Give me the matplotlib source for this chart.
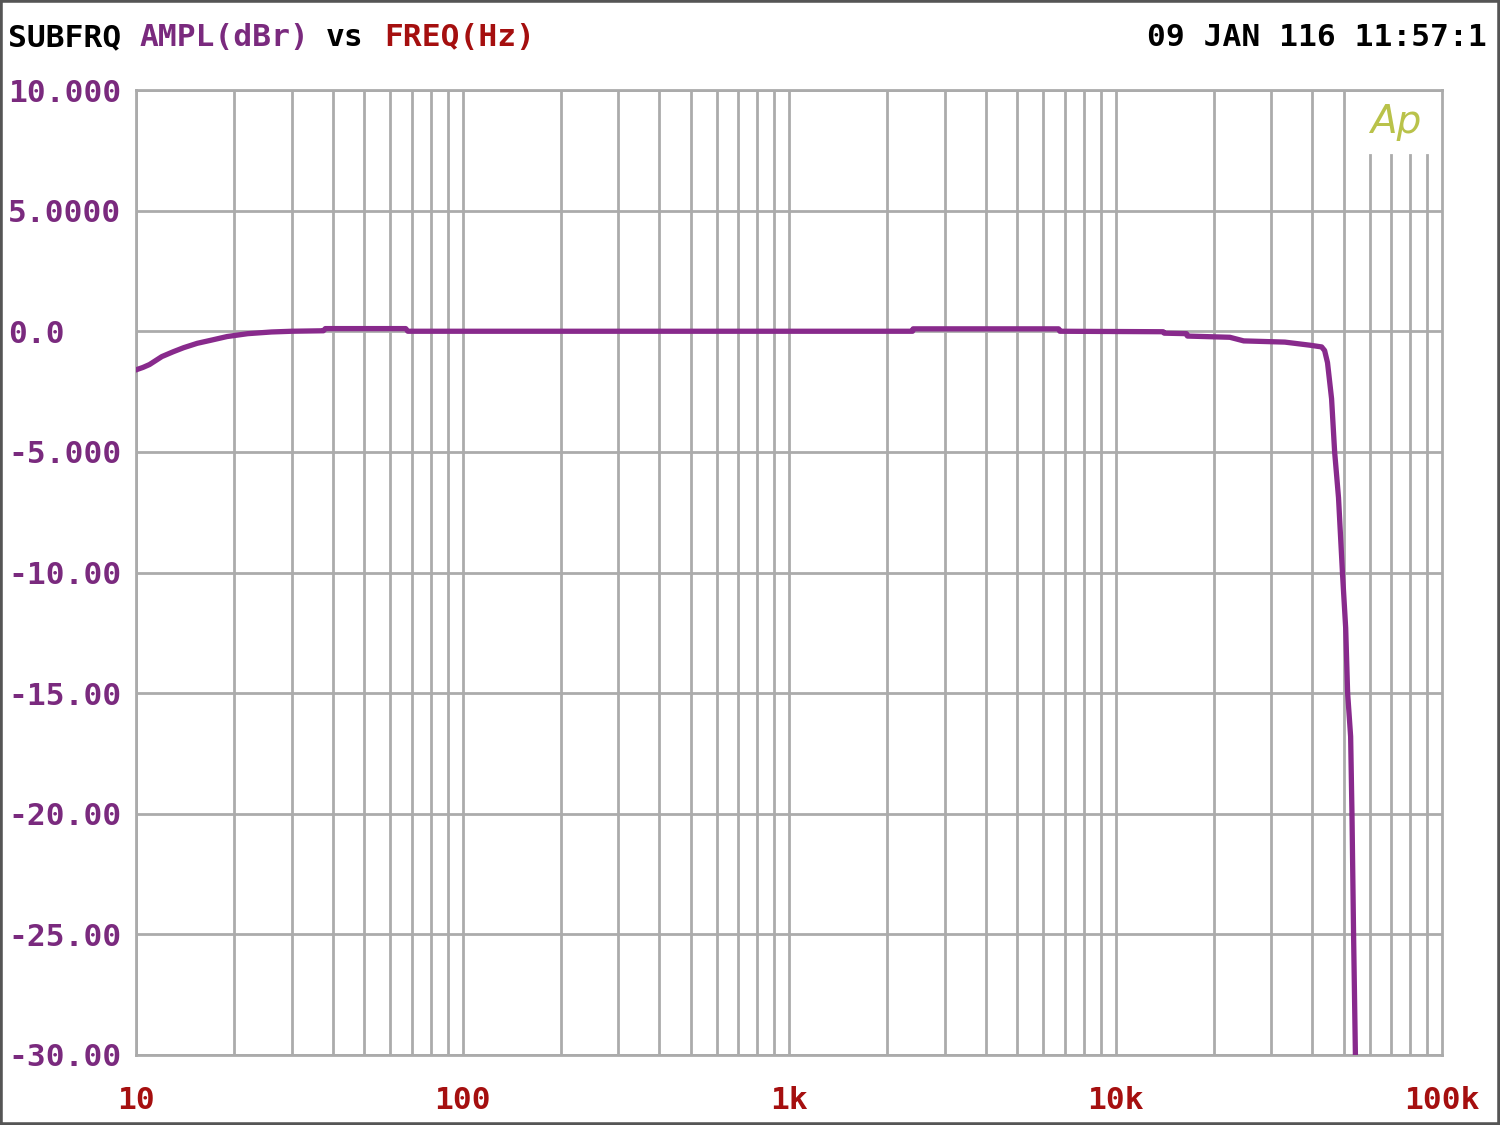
import matplotlib
matplotlib.use("Agg")
import matplotlib.pyplot as plt
from matplotlib.patches import Rectangle

# ==============================
# Data
# ==============================

freq_hz = [10, 10.5, 11, 12, 13, 14, 15.4, 17, 19, 22, 26, 30, 37.5, 38, 67, 68,
           2390, 2400, 6700, 6750, 14000, 14100, 16500, 16600, 22400, 24700,
           33000, 39500, 42800, 43700, 44600, 45900, 46900, 48200, 49600,
           50700, 51400, 52500, 53000, 53600, 54300]
ampl_dbr = [-1.6, -1.5, -1.38, -1.05, -0.85, -0.68, -0.5, -0.37, -0.22, -0.1,
            -0.03, 0.0, 0.02, 0.11, 0.11, 0.0,
            0.0, 0.1, 0.1, 0.0, -0.02, -0.08, -0.1, -0.2, -0.25, -0.4,
            -0.45, -0.58, -0.65, -0.8, -1.3, -2.8, -5.0, -6.9, -10.1,
            -12.3, -15.0, -16.8, -20.0, -25.0, -30.0]

y_ticks = [10, 5, 0, -5, -10, -15, -20, -25, -30]
y_labels = ["10.000", "5.0000", "0.0", "-5.000", "-10.00", "-15.00",
            "-20.00", "-25.00", "-30.00"]
x_ticks = [10, 100, 1000, 10000, 100000]
x_labels = ["10", "100", "1k", "10k", "100k"]

# ==============================
# Styles
# ==============================

PURPLE = "#882a8c"
LABEL_PURPLE = "#7a2a7e"
DARK_RED = "#a50f0f"
GRID = "#ababab"
MONO = "DejaVu Sans Mono"
FS = 22.5

fig = plt.figure(figsize=(15, 11.25), dpi=100)
ax = fig.add_axes([136 / 1500, 1 - 1055 / 1125, (1442 - 136) / 1500, (1055 - 90) / 1125])

ax.set_xscale("log")
ax.set_xlim(10, 100000)
ax.set_ylim(-30, 10)

# grid lines: decades + intermediate, 60k-90k leave room for the logo
for dec in [10, 100, 1000, 10000]:
    for m in range(1, 10):
        f = dec * m
        top = 1.0
        if f >= 60000:
            top = 1 - 65 / 965
        ax.axvline(f, ymin=0, ymax=top, color=GRID, lw=2, zorder=1)
for yt in y_ticks:
    ax.axhline(yt, color=GRID, lw=2, zorder=1)

for s in ax.spines.values():
    s.set_color(GRID)
    s.set_linewidth(2)

ax.plot(freq_hz, ampl_dbr, color=PURPLE, lw=3.8, solid_joinstyle="round", zorder=3)

ax.set_yticks(y_ticks)
ax.set_yticklabels(y_labels, fontfamily=MONO, fontsize=FS, color=LABEL_PURPLE,
                   fontweight="bold", ha="left")
ax.set_xticks(x_ticks)
ax.set_xticklabels(x_labels, fontfamily=MONO, fontsize=FS, color=DARK_RED,
                   fontweight="bold")
ax.minorticks_off()
ax.tick_params(axis="y", length=0, pad=92)
ax.tick_params(axis="x", length=0, pad=22)

# ==============================
# Header texts
# ==============================

ty = 1 - 38 / 1125
fig.text(8 / 1500, ty, "SUBFRQ", fontfamily=MONO, fontsize=FS, fontweight="bold",
         color="black", va="center")
fig.text(140 / 1500, ty, "AMPL(dBr)", fontfamily=MONO, fontsize=FS, fontweight="bold",
         color=LABEL_PURPLE, va="center")
fig.text(326 / 1500, ty, "vs", fontfamily=MONO, fontsize=FS, fontweight="bold",
         color="black", va="center")
fig.text(384 / 1500, ty, "FREQ(Hz)", fontfamily=MONO, fontsize=FS, fontweight="bold",
         color=DARK_RED, va="center")
fig.text(1487 / 1500, ty, "09 JAN 116 11:57:1", fontfamily=MONO, fontsize=FS,
         fontweight="bold", color="black", va="center", ha="right")

fig.text(1370 / 1500, 1 - 122 / 1125, "Ap", fontfamily="DejaVu Sans", fontsize=28,
         fontstyle="italic", color="#b9c24a", va="center", ha="left")

# outer frame
fig.patches.append(Rectangle((0, 0), 1, 1, transform=fig.transFigure, fill=False,
                             edgecolor="#555555", lw=4))

fig.savefig("out.png", dpi=100)
plt.close()
